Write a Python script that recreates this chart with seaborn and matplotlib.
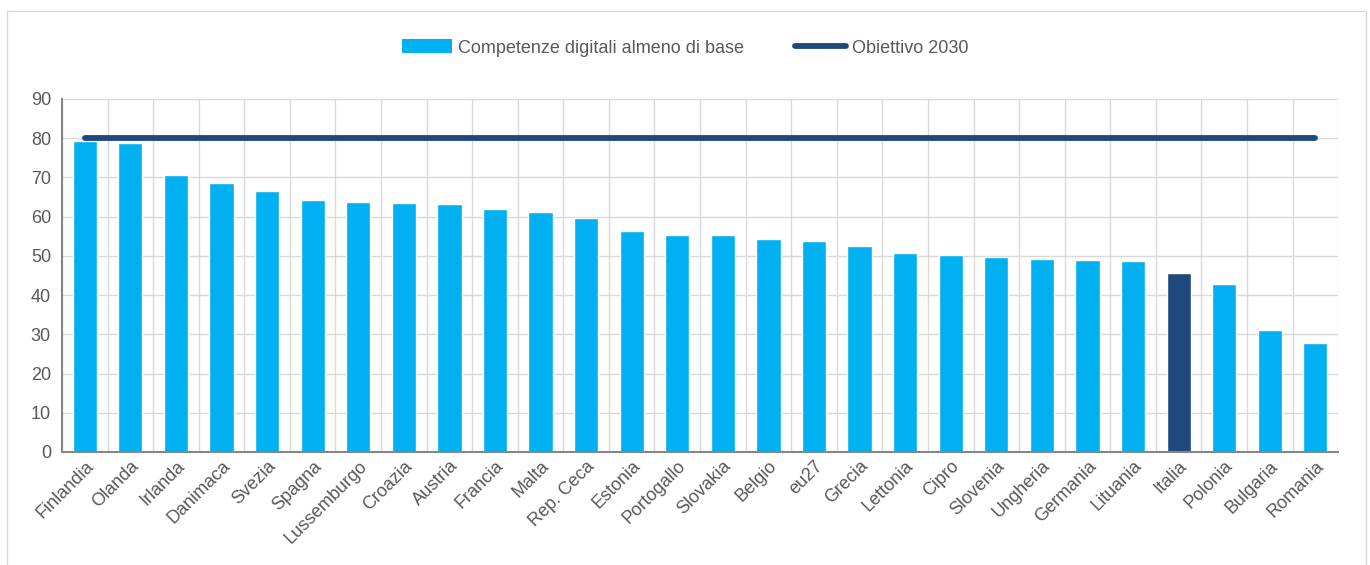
import numpy as np
import pandas as pd
import matplotlib
matplotlib.use("Agg")
import matplotlib.pyplot as plt
from matplotlib.lines import Line2D
from matplotlib.patches import Patch, Rectangle
import seaborn as sns

paesi = ["Finlandia", "Olanda", "Irlanda", "Danimaca", "Svezia", "Spagna",
         "Lussemburgo", "Croazia", "Austria", "Francia", "Malta", "Rep. Ceca",
         "Estonia", "Portogallo", "Slovakia", "Belgio", "eu27", "Grecia",
         "Lettonia", "Cipro", "Slovenia", "Ungheria", "Germania", "Lituania",
         "Italia", "Polonia", "Bulgaria", "Romania"]
competenze = [79.2, 78.9, 70.5, 68.7, 66.6, 64.2, 63.8, 63.4, 63.3, 62.0,
              61.2, 59.7, 56.4, 55.3, 55.2, 54.2, 53.9, 52.5, 50.8, 50.2,
              49.7, 49.1, 48.9, 48.8, 45.6, 42.9, 31.2, 27.7]
obiettivo = 80
evidenziato = "Italia"

azzurro = "#00B0F0"
blu = "#1F497D"
grigio = "#595959"

sns.set_style("white")
plt.rcParams["font.family"] = ["Liberation Sans Narrow", "Liberation Sans", "DejaVu Sans"]

df = pd.DataFrame({"paese": paesi, "valore": competenze})
colori = {p: (blu if p == evidenziato else azzurro) for p in paesi}

fig = plt.figure(figsize=(13.7, 5.65), dpi=100)
ax = fig.add_axes([0.0453, 0.2, 0.9314, 0.6248])

sns.barplot(data=df, x="paese", y="valore", hue="paese", palette=colori,
            saturation=1, legend=False, width=0.53, ax=ax, zorder=2)
ax.plot(paesi, [obiettivo] * len(paesi), color=blu, lw=4.2,
        solid_capstyle="round", zorder=3)

n = len(paesi)
ax.set_xlim(-0.5, n - 0.5)
ax.set_ylim(0, 90)
ax.set_yticks(np.arange(0, 91, 10))
ax.set_xticks(np.arange(-0.5, n, 1.0), minor=True)
ax.grid(False)
ax.yaxis.grid(True, color="#D9D9D9", lw=1, zorder=0)
ax.xaxis.grid(True, which="minor", color="#D9D9D9", lw=1, zorder=0)
ax.set_axisbelow(True)
ax.tick_params(axis="x", which="major", length=0, pad=4)
ax.tick_params(axis="x", which="minor", length=5, color="#868686", width=1.2)
ax.tick_params(axis="y", length=5, color="#868686", width=1.2, labelsize=13,
               labelcolor=grigio, pad=3)
ax.set_xticks(range(n))
ax.set_xticklabels(paesi, rotation=45, ha="right", rotation_mode="anchor",
                   fontsize=13, color=grigio)
ax.set_xlabel("")
ax.set_ylabel("")
for s in ["top", "right"]:
    ax.spines[s].set_visible(False)
for s in ["left", "bottom"]:
    ax.spines[s].set_color("#868686")
    ax.spines[s].set_linewidth(1.5)

handles = [Patch(facecolor=azzurro, edgecolor="none"),
           Line2D([0], [0], color=blu, lw=4.2, solid_capstyle="round")]
fig.legend(handles, ["Competenze digitali almeno di base", "Obiettivo 2030"],
           loc="center", bbox_to_anchor=(0.5, 0.915), ncol=2, frameon=False,
           fontsize=13, labelcolor=grigio, handlelength=2.8, handleheight=0.8,
           handletextpad=0.35, columnspacing=2.8)

fig.patches.append(Rectangle((0.005, -0.01), 0.992, 0.99, transform=fig.transFigure,
                             fill=False, edgecolor="#D9D9D9", lw=1))

fig.savefig("out.png", dpi=100)
